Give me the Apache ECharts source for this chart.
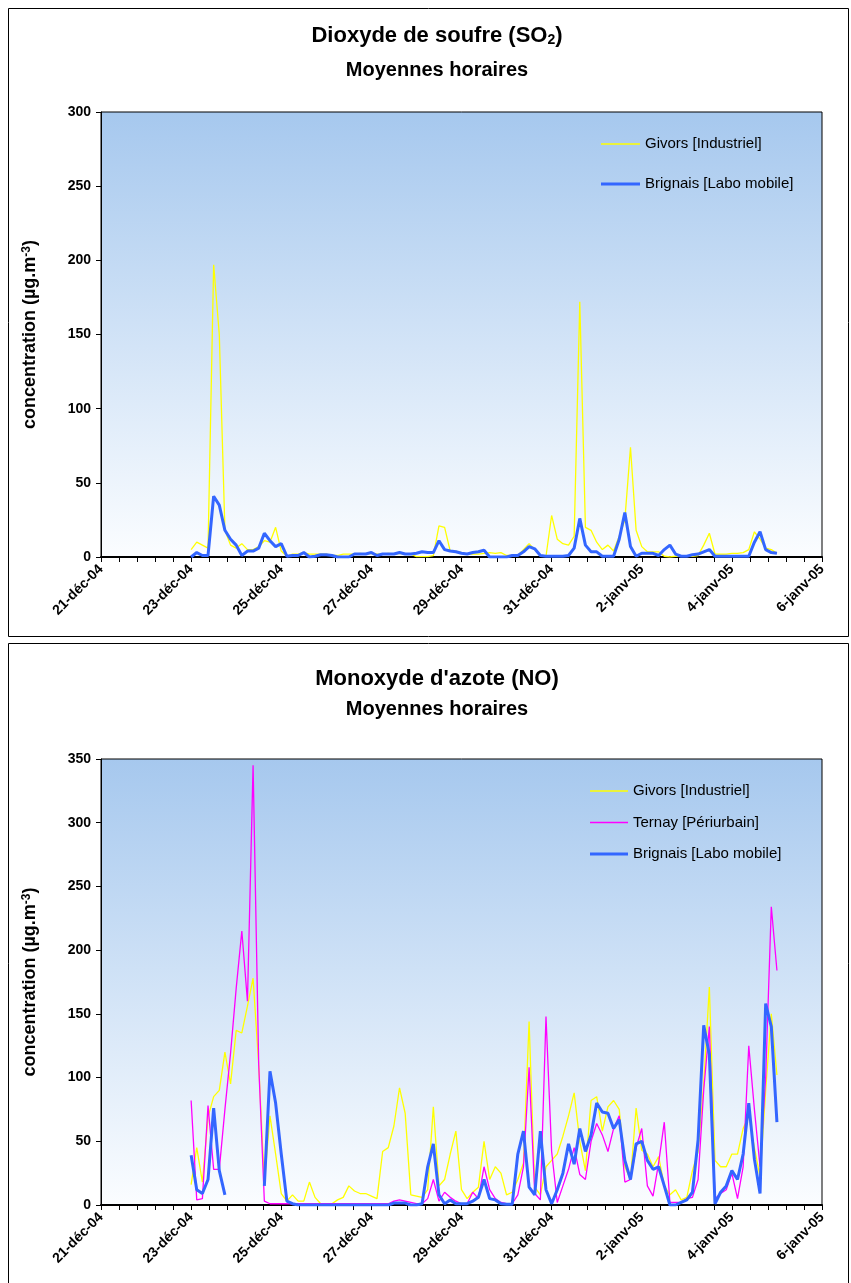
<!DOCTYPE html>
<html><head><meta charset="utf-8">
<script src="https://cdn.jsdelivr.net/npm/echarts@6/dist/echarts.min.js"></script>
<style>html,body{margin:0;padding:0;background:#fff}#c{width:851px;height:1283px}</style>
</head><body><div id="c"></div>
<script>
// x axis tick labels (every 2 days, starting 21-déc-04 = hour 0)
const tickLabels = ['21-déc-04','23-déc-04','25-déc-04','27-déc-04','29-déc-04','31-déc-04','2-janv-05','4-janv-05','6-janv-05'];
// series sampled every 3 hours, starting 23-déc-04 00:00 (hour 48)
const startHour = 48;
const stepHours = 3;

const so2Givors = [
5, 10, 8, 6, 197, 150, 18, 8, 6, 9,
5, 5, 7, 11, 10, 20, 4, 0.5, 2, 2,
3, 2, 2, 2, 2, 1, 1, 2, 2, 2,
2.5, 2, 2.5, 2, 2, 2.5, 2, 2.5, 2, 2,
0.3, 0.3, 0.3, 1, 21, 20, 4, 4, 3, 2,
2, 2, 2.5, 3, 2.5, 3, 1, 1, 1, 5,
9, 5, 1, 0.5, 28, 12, 9, 8, 14, 172,
20, 18, 10, 5, 8, 4, 14, 25, 74, 18,
7, 3.5, 3.5, 3.5, 0.5, 0, 0.5, 0.5, 0.5, 0.5,
1, 8, 16, 2, 2, 2, 2.5, 2.5, 3, 5,
17, 12, 6, 5, 2.5
];
const so2Brignais = [
0, 3, 1, 1, 41, 35, 18, 12, 8, 1,
4, 4, 6, 16, 11, 7, 9, 0.5, 1, 1,
3, 0, 0.5, 1.5, 1.5, 1, 0, 0, 0, 2,
2, 2, 3, 1, 2, 2, 2, 3, 2, 2,
2.5, 3.5, 3, 3, 11, 5, 4, 3.5, 2.5, 2,
3, 3.5, 4.5, 0, 0, 0, 0, 1, 1, 3.5,
7, 5.5, 1, 0.5, 0.5, 0.5, 0.5, 1, 6, 26,
8, 3.5, 3.5, 0.5, 0.5, 0.5, 12, 30, 7, 0.5,
2.5, 2.5, 2.5, 1, 5, 8, 2, 0.5, 0.5, 1.5,
2, 3.5, 5, 0.5, 0.5, 0.5, 0.5, 0.5, 0.5, 0.5,
10, 17, 5, 3, 2.5
];
const noGivors = [
16, 45, 18, 69, 85, 90, 120, 95, 137, 135,
156, 178, 110, 17, 70, 40, 9, 3, 8, 3,
3, 18, 6, 1, 1, 1, 4, 6, 15, 11,
9, 9, 7, 5, 42, 45, 62, 92, 72, 8,
7, 6, 12, 77, 15, 20, 40, 58, 12, 5,
10, 14, 50, 20, 30, 25, 8, 10, 20, 33,
144, 14, 8, 30, 35, 40, 54, 70, 88, 50,
27, 82, 85, 58, 77, 82, 75, 30, 20, 76,
43, 40, 30, 38, 15, 8, 12, 4, 6, 27,
42, 95, 171, 35, 30, 30, 40, 40, 60, 70,
45, 22, 90, 150, 102
];
const noTernay = [
82, 4, 5, 78, 28, 28, 75, 119, 170, 215,
160, 345, 110, 3, 1, 1, 1, 1, 1, 1,
1, 1, 1, 1, 1, 1, 1, 1, 1, 1,
1, 1, 1, 1, 1, 1, 3, 4, 3, 2,
1, 1, 5, 20, 3, 10, 6, 3, 1, 1,
10, 5, 30, 12, 5, 2, 1, 1, 8, 30,
108, 9, 4, 148, 42, 2, 15, 28, 45, 24,
20, 50, 64, 55, 42, 60, 70, 18, 20, 45,
60, 15, 7, 33, 65, 2, 2, 2, 5, 6,
20, 90, 140, 5, 9, 12, 25, 5, 30, 125,
75, 30, 100, 234, 184
];
const noBrignais = [
39, 12, 9, 20, 76, 27, 8, null, null, null,
null, null, null, 15, 105, 80, 40, 3, 1, 0,
0, 0, 0, 0, 0, 0, 0, 0, 0, 0,
0, 0, 0, 0, 0, 0, 1.5, 1.5, 1.5, 0,
0, 1, 30, 48, 8, 1, 4, 1, 1, 1,
3, 6, 20, 5, 4, 1, 0.5, 0.5, 40, 58,
14, 8, 58, 12, 1, 12, 25, 48, 32, 60,
42, 55, 80, 73, 72, 60, 67, 35, 20, 48,
50, 35, 28, 30, 15, 0, 0, 2, 4, 10,
51, 141, 118, 1, 10, 15, 27, 20, 40, 80,
36, 9, 158, 140, 65
];

const FONT = '"Liberation Sans", Arial, sans-serif';
function pts(arr) { return arr.map((v, i) => [startHour + i * stepHours, v == null ? '-' : v]); }
const bg = { type: 'linear', x: 0, y: 0, x2: 0, y2: 1,
  colorStops: [{ offset: 0, color: '#a6c8ee' }, { offset: 1, color: '#fbfdff' }] };

function xAxis(gi) {
  return { gridIndex: gi, type: 'value', min: 0, max: 384, interval: 48,
    axisLine: { show: true, onZero: false, lineStyle: { color: '#000', width: 2 } },
    axisTick: { show: true, length: 5, lineStyle: { color: '#000' } },
    minorTick: { show: true, splitNumber: 5, length: 5, lineStyle: { color: '#000' } },
    splitLine: { show: false }, minorSplitLine: { show: false },
    axisLabel: { rotate: 45, margin: 10, fontSize: 14, fontWeight: 'bold', color: '#000', fontFamily: FONT,
      formatter: v => tickLabels[Math.round(v / 48)] } };
}
function yAxis(gi, max) {
  return { gridIndex: gi, type: 'value', min: 0, max: max, interval: 50,
    axisLine: { show: true, lineStyle: { color: '#000', width: 1 } },
    axisTick: { show: true, length: 5, lineStyle: { color: '#000' } },
    splitLine: { show: false },
    axisLabel: { margin: 10, fontSize: 14, fontWeight: 'bold', color: '#000', fontFamily: FONT },
    name: 'concentration (µg.m{sup|-3})', nameLocation: 'middle', nameRotate: 90, nameGap: 62,
    nameTextStyle: { fontSize: 18, fontWeight: 'bold', color: '#000', fontFamily: FONT,
      rich: { sup: { fontSize: 12, fontWeight: 'bold', color: '#000', fontFamily: FONT, verticalAlign: 'top' } } } };
}
function line(name, xi, data, color, width) {
  return { name: name, type: 'line', xAxisIndex: xi, yAxisIndex: xi, data: pts(data),
    symbol: 'none', showSymbol: false, connectNulls: false,
    lineStyle: { color: color, width: width }, itemStyle: { color: color } };
}
const titleRich = { sub: { fontSize: 14, fontWeight: 'bold', color: '#000', fontFamily: FONT, verticalAlign: 'bottom' } };
function title(text, top, size) {
  return { text: text, left: 432, textAlign: 'center', top: top,
    textStyle: { fontSize: size, fontWeight: 'bold', color: '#000', fontFamily: FONT, rich: titleRich } };
}
const thinIcon = 'path://M0,0H39V1.3H0Z';
const thickIcon = 'path://M0,0H39V3H0Z';

const chart = echarts.init(document.getElementById('c'), null, { renderer: 'canvas' });
chart.setOption({
  animation: false,
  backgroundColor: '#fff',
  graphic: [
    { type: 'rect', shape: { x: 8.5, y: 8.5, width: 840, height: 628 }, style: { fill: 'none', stroke: '#000', lineWidth: 1 }, z: -1 },
    { type: 'rect', shape: { x: 8.5, y: 643.5, width: 840, height: 700 }, style: { fill: 'none', stroke: '#000', lineWidth: 1 }, z: -1 }
  ],
  title: [
    title('Dioxyde de soufre (SO{sub|2})', 20, 22),
    title('Moyennes horaires', 55, 20),
    title("Monoxyde d'azote (NO)", 663, 22),
    title('Moyennes horaires', 694, 20)
  ],
  legend: [
    { data: [{ name: 'Givors [Industriel]', icon: thinIcon }, { name: 'Brignais [Labo mobile]', icon: thickIcon }],
      orient: 'vertical', left: 601, top: 136, padding: 0,
      itemWidth: 39, itemHeight: 16, itemGap: 24, selectedMode: false, symbolKeepAspect: true,
      textStyle: { fontSize: 15, color: '#000', fontFamily: FONT, lineHeight: 16 } },
    { data: [{ name: 'Givors [Industriel]', icon: thinIcon }, { name: 'Ternay [Périurbain]', icon: thinIcon }, { name: 'Brignais [Labo mobile]', icon: thickIcon }],
      orient: 'vertical', left: 590, top: 783, padding: 0,
      itemWidth: 38, itemHeight: 16, itemGap: 15.5, selectedMode: false, symbolKeepAspect: true,
      textStyle: { fontSize: 15, color: '#000', fontFamily: FONT, lineHeight: 16 } }
  ],
  grid: [
    { left: 101, top: 112, width: 721, height: 445, show: true, backgroundColor: bg, borderColor: '#000', borderWidth: 1 },
    { left: 101, top: 759, width: 721, height: 446, show: true, backgroundColor: bg, borderColor: '#000', borderWidth: 1 }
  ],
  xAxis: [xAxis(0), xAxis(1)],
  yAxis: [yAxis(0, 300), yAxis(1, 350)],
  series: [
    line('Givors [Industriel]', 0, so2Givors, '#ffff00', 1.3),
    line('Brignais [Labo mobile]', 0, so2Brignais, '#3366ff', 3),
    line('Givors [Industriel]', 1, noGivors, '#ffff00', 1.3),
    line('Ternay [Périurbain]', 1, noTernay, '#ff00ff', 1.3),
    line('Brignais [Labo mobile]', 1, noBrignais, '#3366ff', 3)
  ]
});
</script>
</body></html>
